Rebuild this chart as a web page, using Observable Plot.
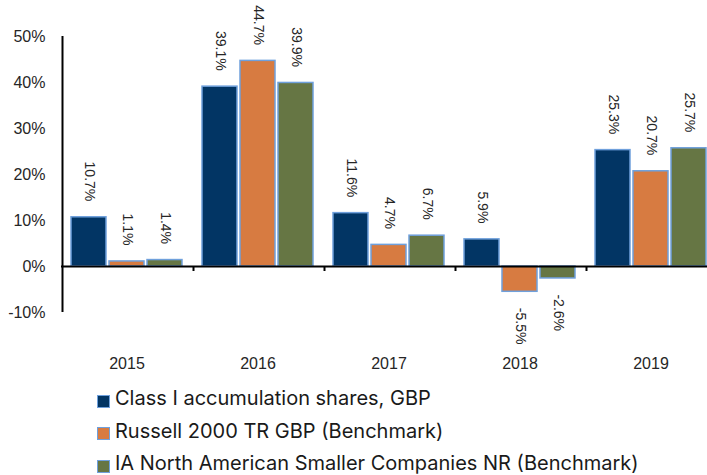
<!DOCTYPE html>
<html>
<head>
<meta charset="utf-8">
<script src="https://cdn.jsdelivr.net/npm/d3@7"></script>
<script src="https://cdn.jsdelivr.net/npm/@observablehq/plot@0.6"></script>
<style>
  body { margin: 0; background: #fff; }
  #legend { font-family: Inter, Roboto, sans-serif; font-size: 20px; color: #1a1a1a; padding-left: 97px; margin-top: 2px; }
  .row { height: 32.5px; display: flex; align-items: center; }
  .sw { width: 11px; height: 11px; border: 1.5px solid #6fa0dc; margin-right: 5px; margin-top: 6px; flex: none; }
</style>
</head>
<body>
<div id="chart"></div>
<div id="legend"></div>
<script>
const years = ["2015", "2016", "2017", "2018", "2019"];
const seriesNames = [
  "Class I accumulation shares, GBP",
  "Russell 2000 TR GBP (Benchmark)",
  "IA North American Smaller Companies NR (Benchmark)"
];
const classI = [10.7, 39.1, 11.6, 5.9, 25.3];
const russell = [1.1, 44.7, 4.7, -5.5, 20.7];
const iaNorth = [1.4, 39.9, 6.7, -2.6, 25.7];
const yTicks = [-10, 0, 10, 20, 30, 40, 50];
const colors = ["#023564", "#d77b41", "#667644"];

const seriesValues = [classI, russell, iaNorth];
const rows = years.flatMap((year, i) => seriesNames.map((s, j) => ({year, series: s, value: seriesValues[j][i]})));

const W = 707, H = 380, mL = 61, mR = -9, mT = 36, mB = 68;
const facetW = (W - mL - mR) / years.length;
const pInner = 3 / 39, pOuter = 0.218;
const xb = d3.scaleBand().domain(seriesNames).range([0, facetW]).paddingInner(pInner).paddingOuter(pOuter);
const edgeDx = -(xb(seriesNames[0]) + xb.bandwidth() / 2);

const chart = Plot.plot({
  width: W, height: H,
  marginLeft: mL, marginRight: mR, marginTop: mT, marginBottom: mB,
  style: {fontFamily: "'Liberation Sans', Arial, sans-serif", fontSize: "16px", color: "#262626", background: "#fff"},
  fx: {domain: years, padding: 0, label: null, tickSize: 0, tickPadding: 45},
  x: {domain: seriesNames, paddingInner: pInner, paddingOuter: pOuter, axis: null},
  y: {domain: [yTicks[0], yTicks[yTicks.length - 1]], ticks: yTicks, tickFormat: d => d + "%", tickSize: 0, tickPadding: 16, label: null},
  color: {domain: seriesNames, range: colors},
  marks: [
    Plot.barY(rows, {fx: "year", x: "series", y: "value", fill: "series", stroke: "#6fa0dc", strokeWidth: 1.5}),
    Plot.ruleY([0], {stroke: "#000", strokeWidth: 2}),
    Plot.ruleX(years.slice(1).map(y => ({year: y})), {fx: "year", x: () => seriesNames[0], y1: () => 0, y2: () => 0, dx: edgeDx, insetBottom: -5, stroke: "#000", strokeWidth: 2}),
    Plot.ruleX([{year: years[0]}], {fx: "year", x: () => seriesNames[0], y1: () => yTicks[0], y2: () => yTicks[yTicks.length - 1], dx: edgeDx, stroke: "#000", strokeWidth: 2}),
    Plot.text(rows.filter(d => d.value >= 0), {fx: "year", x: "series", y: "value", text: d => d.value.toFixed(1) + "%", rotate: 90, textAnchor: "end", dy: -16, fontSize: 14, fill: "#262626"}),
    Plot.text(rows.filter(d => d.value < 0), {fx: "year", x: "series", y: "value", text: d => d.value.toFixed(1) + "%", rotate: 90, textAnchor: "start", dy: 16, fontSize: 14, fill: "#262626"})
  ]
});
document.getElementById("chart").appendChild(chart);

const legend = document.getElementById("legend");
seriesNames.forEach((s, i) => {
  const row = document.createElement("div");
  row.className = "row";
  const sw = document.createElement("span");
  sw.className = "sw";
  sw.style.background = colors[i];
  const t = document.createElement("span");
  t.textContent = s;
  row.appendChild(sw);
  row.appendChild(t);
  legend.appendChild(row);
});
</script>
</body>
</html>
